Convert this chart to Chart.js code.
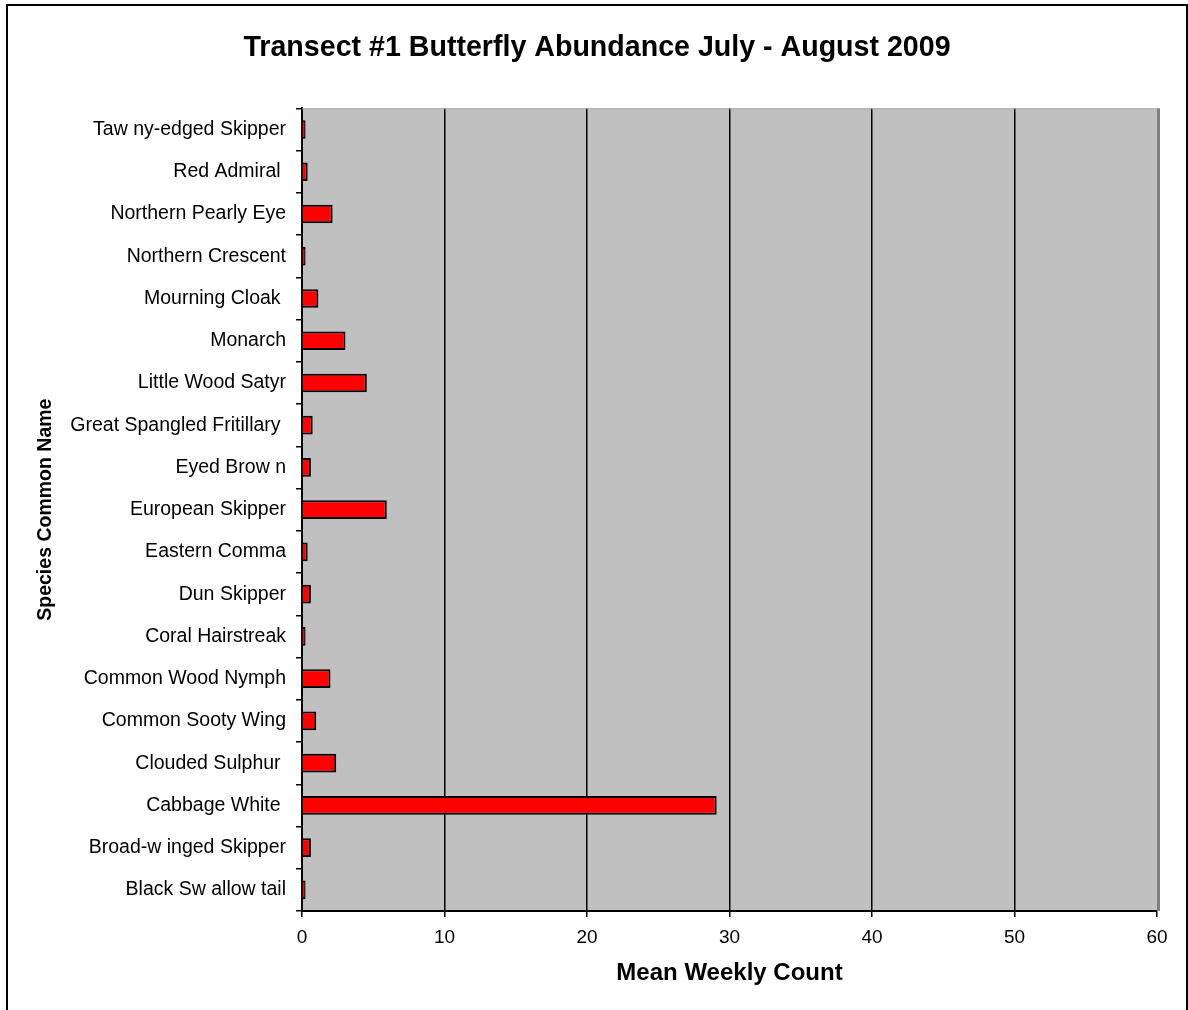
<!DOCTYPE html>
<html>
<head>
<meta charset="utf-8">
<script src="https://cdn.jsdelivr.net/npm/chart.js@4"></script>
<style>
  html, body { margin: 0; padding: 0; background: #fff; overflow: hidden; }
  #wrap { position: relative; width: 1188px; height: 1010px; }
  #frame { position: absolute; left: 6px; top: 4px; width: 1178px; height: 1100px;
           border: 2px solid #000; pointer-events: none; }
</style>
</head>
<body>
<div id="wrap">
  <canvas id="myChart" width="1188" height="1010"></canvas>
  <div id="frame"></div>
</div>
<script>
    // species, top to bottom as shown
    const species = [
        'Taw ny-edged Skipper',
        'Red Admiral ',
        'Northern Pearly Eye',
        'Northern Crescent',
        'Mourning Cloak ',
        'Monarch',
        'Little Wood Satyr',
        'Great Spangled Fritillary ',
        'Eyed Brow n',
        'European Skipper',
        'Eastern Comma',
        'Dun Skipper',
        'Coral Hairstreak',
        'Common Wood Nymph',
        'Common Sooty Wing',
        'Clouded Sulphur ',
        'Cabbage White ',
        'Broad-w inged Skipper',
        'Black Sw allow tail'
    ];
    const meanWeekly = [0.25, 0.4, 2.15, 0.25, 1.15, 3.05, 4.55, 0.75, 0.625, 5.95,
                        0.4, 0.625, 0.25, 2.0, 1.0, 2.4, 29.1, 0.625, 0.25];
    const xTicks = [0, 10, 20, 30, 40, 50, 60];

    const fontFam = "'Liberation Sans', Arial, sans-serif";

    // gray plot background + gray top/right frame
    const plotArea = {
        id: 'plotArea',
        beforeDraw(chart) {
            const {ctx, chartArea: a} = chart;
            ctx.save();
            ctx.fillStyle = '#C0C0C0';
            ctx.fillRect(a.left, a.top, a.right - a.left, a.bottom - a.top);
            ctx.restore();
        },
        afterDatasetsDraw(chart) {
            const {ctx, chartArea: a} = chart;
            ctx.save();
            ctx.strokeStyle = '#A8A8A8';
            ctx.lineWidth = 1;
            ctx.beginPath();
            ctx.moveTo(a.left, a.top + 0.5);
            ctx.lineTo(a.right, a.top + 0.5);
            ctx.stroke();
            ctx.strokeStyle = '#808080';
            ctx.lineWidth = 3;
            ctx.beginPath();
            ctx.moveTo(a.right + 1.5, a.top);
            ctx.lineTo(a.right + 1.5, a.bottom);
            ctx.stroke();
            ctx.restore();
        }
    };

    const data = {
        labels: species,
        datasets: [{
            data: meanWeekly,
            backgroundColor: '#FF0000',
            borderColor: '#000000',
            borderWidth: 2,
            barPercentage: 0.44,
            categoryPercentage: 1
        }]
    };

    const config = {
        type: 'bar',
        data: data,
        plugins: [plotArea],
        options: {
            indexAxis: 'y',
            responsive: false,
            animation: false,
            layout: { padding: { left: 37, right: 31, top: 0, bottom: 0 } },
            plugins: {
                legend: { display: false },
                tooltip: { enabled: false },
                title: {
                    display: true,
                    text: 'Transect #1 Butterfly Abundance July - August 2009',
                    color: '#000',
                    font: { family: fontFam, size: 28.6, weight: 'bold' },
                    padding: { top: 31, bottom: 43 }
                }
            },
            scales: {
                x: {
                    min: 0,
                    max: 60,
                    afterBuildTicks(scale) {
                        scale.ticks = xTicks.map(v => ({ value: v }));
                    },
                    afterFit(scale) { scale.height = 99; },
                    ticks: {
                        color: '#000',
                        padding: 9,
                        font: { family: fontFam, size: 19 }
                    },
                    grid: {
                        color: ctx => (ctx.tick && (ctx.tick.value === 0 || ctx.tick.value === 60)) ? 'rgba(0,0,0,0)' : '#000',
                        tickColor: '#000',
                        lineWidth: 1.5,
                        tickLength: 6
                    },
                    border: { display: true, color: '#000', width: 2 },
                    title: {
                        display: true,
                        text: 'Mean Weekly Count',
                        color: '#000',
                        font: { family: fontFam, size: 24, weight: 'bold' },
                        padding: { top: 0, bottom: 22 }
                    }
                },
                y: {
                    afterFit(scale) { scale.width = 302 - 37; },
                    ticks: {
                        color: '#000',
                        padding: 10,
                        font: { family: fontFam, size: 19.5 }
                    },
                    grid: {
                        offset: true,
                        drawOnChartArea: false,
                        color: '#000',
                        tickColor: '#000',
                        lineWidth: 1.5,
                        tickLength: 6
                    },
                    border: { display: true, color: '#000', width: 2 },
                    title: {
                        display: true,
                        text: 'Species Common Name',
                        color: '#000',
                        font: { family: fontFam, size: 19.5, weight: 'bold' },
                        padding: { top: -3, bottom: 0 }
                    }
                }
            }
        }
    };

    const myChart = new Chart(
        document.getElementById('myChart'),
        config
    );
</script>
</body>
</html>
